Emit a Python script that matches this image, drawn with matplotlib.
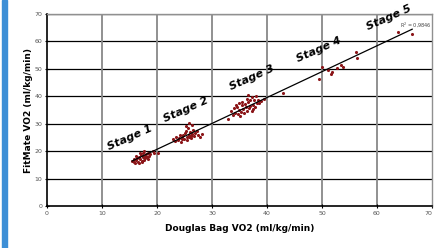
import numpy as np
import matplotlib
matplotlib.use("Agg")
import matplotlib.pyplot as plt
from matplotlib.patches import Rectangle

# ---- data ----
xs1 = [15.5,15.8,16.0,16.2,16.4,16.5,16.7,16.8,17.0,17.1,17.2,17.4,17.5,17.6,17.8,17.9,18.0,18.1,18.3,18.4,18.5,16.1,17.3,18.7,19.2,19.5,20.2,16.9,15.9,17.7]
ys1 = [16.5,17.2,15.8,16.9,17.5,16.2,18.0,15.5,17.0,18.5,16.4,17.8,19.2,16.8,18.2,17.4,19.0,18.0,17.2,19.5,18.4,18.3,15.9,18.9,20.0,19.4,19.5,19.4,16.0,20.2]
xs2 = [23.0,23.3,23.5,23.8,24.0,24.1,24.3,24.5,24.6,24.8,25.0,25.1,25.2,25.4,25.5,25.6,25.8,25.9,26.0,26.1,26.2,26.4,26.5,26.7,26.9,27.2,27.5,27.8,28.2,25.8,25.3,26.3]
ys2 = [24.5,23.8,25.2,24.0,24.8,26.0,23.5,25.0,24.3,25.8,24.6,26.5,27.5,25.2,24.2,28.5,26.0,25.3,27.0,25.6,24.8,26.2,27.8,25.5,26.5,27.2,26.0,25.3,26.3,30.3,29.0,29.5]
xs3 = [32.9,33.5,33.8,34.0,34.2,34.5,34.7,34.9,35.0,35.2,35.4,35.5,35.7,35.8,36.0,36.1,36.3,36.4,36.6,36.8,36.9,37.0,37.2,37.3,37.5,37.7,37.8,38.0,38.2,38.4,38.6,39.0,39.4,35.1,36.5,37.4,34.3,42.9]
ys3 = [31.8,34.5,33.2,35.8,34.0,36.2,33.5,37.5,35.0,34.2,36.8,38.0,35.5,33.8,37.2,36.0,39.0,34.8,37.8,35.6,38.5,36.4,39.8,34.6,37.0,38.6,36.2,40.2,37.4,38.8,37.6,38.2,39.0,32.8,40.5,35.4,37.0,41.2]
xs4 = [49.5,50.0,51.1,51.6,51.8,52.7,53.5,53.8,56.2,56.4]
ys4 = [46.4,50.7,49.6,48.2,49.0,50.4,51.5,50.8,56.2,54.0]
xs5 = [63.8,66.4]
ys5 = [63.5,62.8]

stage_labels = ["Stage 1", "Stage 2", "Stage 3", "Stage 4", "Stage 5"]
label_x = [15.1, 25.3, 37.3, 49.5, 62.2]
label_y = [24.8, 35.0, 46.7, 57.0, 68.6]
r2_text = "R$^2$ = 0,9846"

x_ticks = [0, 10, 20, 30, 40, 50, 60, 70]
y_ticks = [0, 10, 20, 30, 40, 50, 60, 70]

# ---- figure ----
fig = plt.figure(figsize=(4.35, 2.48), dpi=100)
fig.patches.append(Rectangle((2/435, 0), 5/435, 1, transform=fig.transFigure,
                             color="#3d8fd6", zorder=0))
ax = fig.add_axes([47/435, 1 - 206/248, 385/435, 192/248])

x_all = np.array(xs1 + xs2 + xs3 + xs4 + xs5)
y_all = np.array(ys1 + ys2 + ys3 + ys4 + ys5)

ax.set_xlim(0, 70)
ax.set_ylim(0, 70)
ax.set_xticks(x_ticks)
ax.set_yticks(y_ticks)

for v in y_ticks[1:]:
    ax.axhline(v, color="black", lw=0.9, zorder=1)
for v in x_ticks[1:-1]:
    ax.axvline(v, color="#888888", lw=1.3, zorder=1)

ax.scatter(x_all, y_all, s=5, color="#8b1518", zorder=3, linewidths=0)

coef = np.polyfit(x_all, y_all, 1)
xl = np.array([x_all.min(), x_all.max()])
ax.plot(xl, np.polyval(coef, xl), color="black", lw=0.9, zorder=4)

for t, lx, ly in zip(stage_labels, label_x, label_y):
    ax.text(lx, ly, t, rotation=24, ha="center", va="center",
            fontsize=8, fontweight="heavy", fontstyle="italic", zorder=5)
ax.text(67.0, 66.0, r2_text, fontsize=3.5, color="#444444", ha="center",
        va="center", zorder=5)

for s in ["top", "right"]:
    ax.spines[s].set_color("#909090")
    ax.spines[s].set_linewidth(1.0)
for s in ["left", "bottom"]:
    ax.spines[s].set_color("black")
    ax.spines[s].set_linewidth(1.2)

ax.tick_params(axis="both", direction="inout", length=3, width=0.8,
               labelsize=4.5, labelcolor="#555555", pad=2)
labels = ax.get_xticklabels()
labels[-1].set_horizontalalignment("right")

ax.set_xlabel("Douglas Bag VO2 (ml/kg/min)", fontsize=6.5, fontweight="bold",
              labelpad=6)
ax.set_ylabel("FitMate VO2 (ml/kg/min)", fontsize=6.5, fontweight="bold",
              labelpad=1)

fig.savefig("out.png", dpi=100)
